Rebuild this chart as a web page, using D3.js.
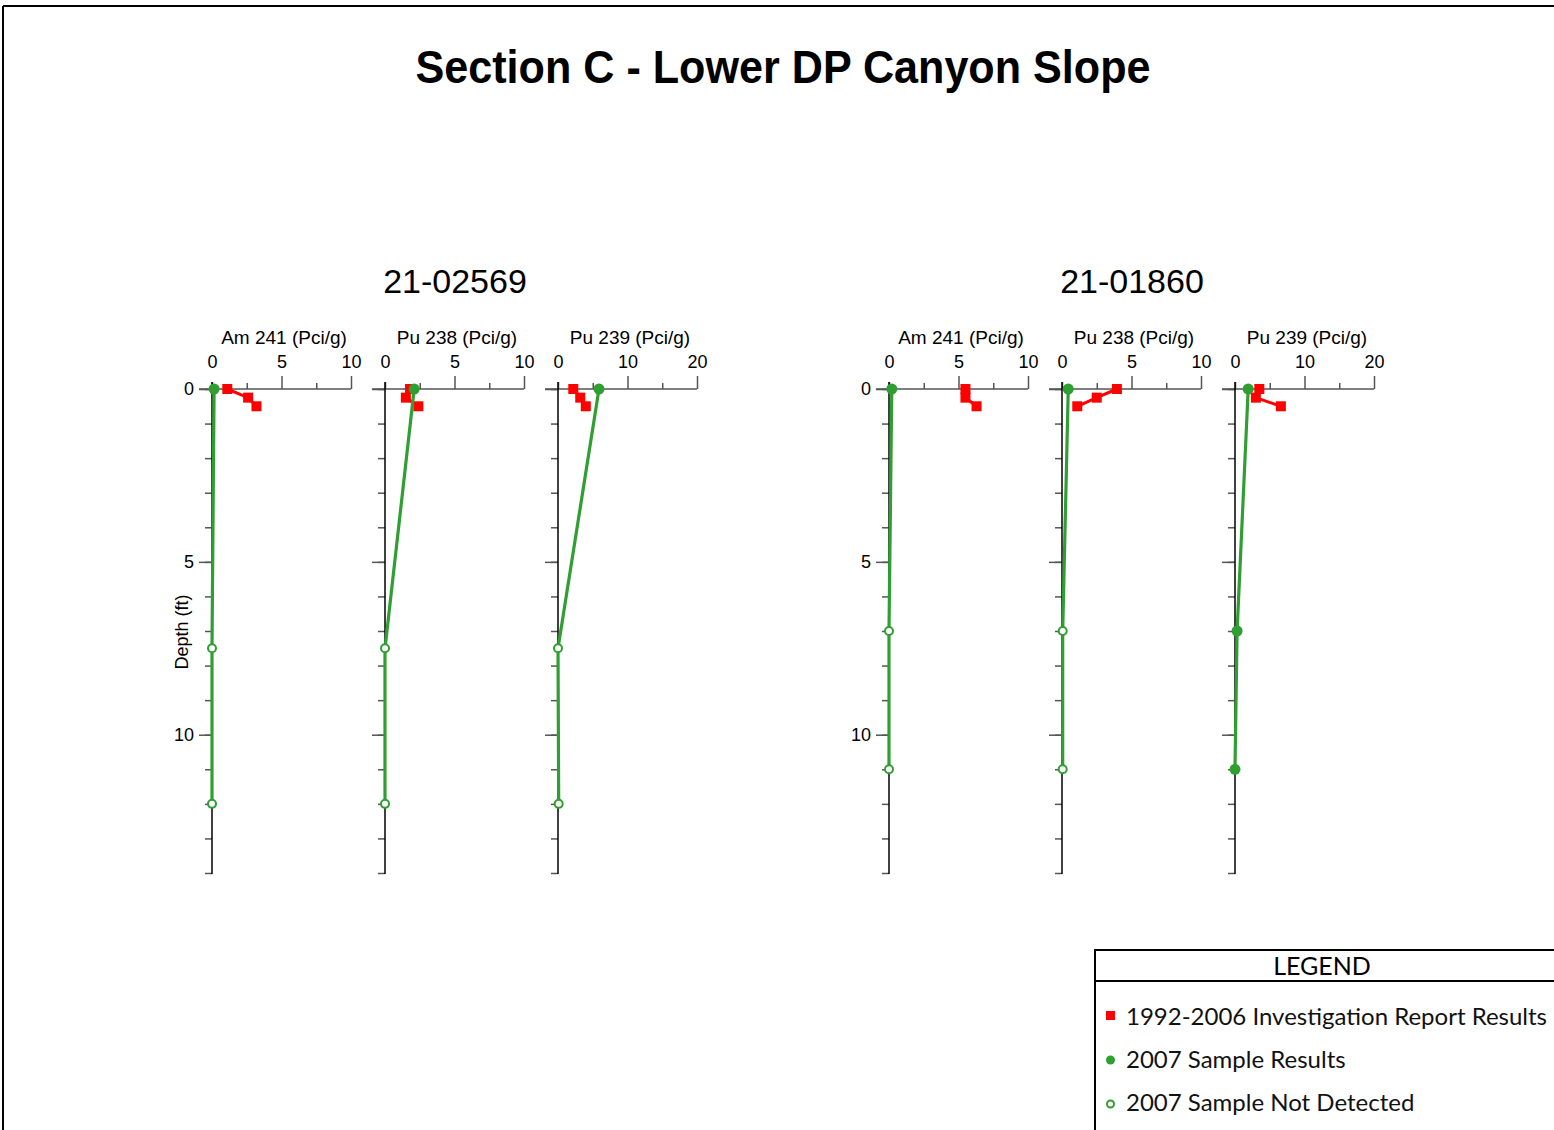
<!DOCTYPE html>
<html>
<head>
<meta charset="utf-8">
<script src="https://cdn.jsdelivr.net/npm/d3@7"></script>
<style>
  body { margin: 0; background: #fff; }
  svg { display: block; }
</style>
</head>
<body>
<svg id="chart"></svg>
<script>
const width = 1554;
const height = 1130;

// ---- data ----
const titleText = "Section C - Lower DP Canyon Slope";
const locations = ["21-02569", "21-01860"];
const analytes = ["Am 241 (Pci/g)", "Pu 238 (Pci/g)", "Pu 239 (Pci/g)"];
const xMaxes = [10, 10, 20];
const depthMax = 14;
const depthLabels = [0, 5, 10];

// 1992-2006 investigation report results (red), one row per analyte
const histDepths = [0, 0.25, 0.5];
const hist02569 = [[1.1, 2.6, 3.2], [1.8, 1.5, 2.4], [2.2, 3.2, 4.0]];
const hist01860 = [[5.5, 5.5, 6.3], [3.95, 2.5, 1.1], [3.5, 3.0, 6.6]];

// 2007 samples (green); detected 1 = filled, 0 = not detected (open)
const sampleDepths02569 = [0, 7.5, 12];
const sample02569 = [[0.15, 0, 0], [2.1, 0, 0], [5.9, 0, 0.1]];
const detected02569 = [[1, 0, 0], [1, 0, 0], [1, 0, 0]];
const sampleDepths01860 = [0, 7, 11];
const sample01860 = [[0.2, 0, 0], [0.45, 0.05, 0.05], [1.9, 0.3, 0]];
const detected01860 = [[1, 0, 0], [1, 0, 0], [1, 1, 1]];

const legendLabels = ["1992-2006 Investigation Report Results", "2007 Sample Results", "2007 Sample Not Detected"];

const groups = [
  { name: locations[0], hist: hist02569, depths: sampleDepths02569, vals: sample02569, det: detected02569 },
  { name: locations[1], hist: hist01860, depths: sampleDepths01860, vals: sample01860, det: detected01860 },
];

// ---- layout ----
const groupLeft = [212, 889];
const panelStep = 173;
const panelW = 139;
const yTop = 389, yBottom = 873;
const red = "#ff0000";
const green = "#2f9f32";
const axisGray = "#555";
const font = "'Liberation Sans', Arial, sans-serif";

const svg = d3.select("#chart").attr("width", width).attr("height", height);

// page frame
svg.append("line").attr("x1", 3).attr("x2", width).attr("y1", 6).attr("y2", 6)
  .attr("stroke", "#000").attr("stroke-width", 2);
svg.append("line").attr("x1", 3).attr("x2", 3).attr("y1", 6).attr("y2", height)
  .attr("stroke", "#000").attr("stroke-width", 2);

svg.append("text")
  .attr("x", 783).attr("y", 83)
  .attr("text-anchor", "middle")
  .attr("font-family", font).attr("font-weight", "bold").attr("font-size", 46)
  .attr("textLength", 735).attr("lengthAdjust", "spacingAndGlyphs")
  .text(titleText);

const y = d3.scaleLinear().domain([0, depthMax]).range([yTop, yBottom]);

groups.forEach((grp, gi) => {
  const gx = groupLeft[gi];
  svg.append("text")
    .attr("x", gx + panelStep + 70).attr("y", 293)
    .attr("text-anchor", "middle")
    .attr("font-family", font).attr("font-size", 34)
    .text(grp.name);

  if (gi === 0) {
    svg.append("text")
      .attr("transform", `translate(188,${632}) rotate(-90)`)
      .attr("text-anchor", "middle")
      .attr("font-family", font).attr("font-size", 18)
      .text("Depth (ft)");
  }

  analytes.forEach((name, pi) => {
    const x0 = gx + pi * panelStep;
    const xMax = xMaxes[pi];
    const x = d3.scaleLinear().domain([0, xMax]).range([x0, x0 + panelW]);
    const pg = svg.append("g");

    pg.append("text")
      .attr("x", x0 + 72).attr("y", 344)
      .attr("text-anchor", "middle")
      .attr("font-family", font).attr("font-size", 19)
      .text(name);

    // x axis on top
    pg.append("line").attr("x1", x0 - 13).attr("x2", x(xMax))
      .attr("y1", yTop).attr("y2", yTop)
      .attr("stroke", axisGray).attr("stroke-width", 1.5);

    const xMajor = pg.append("g").attr("transform", `translate(0,${yTop})`)
      .call(d3.axisTop(x).tickValues([0, xMax / 2, xMax]).tickSize(13).tickPadding(8).tickFormat(d3.format("d")));
    xMajor.selectAll(".tick").filter(d => d === 0).select("line").attr("y2", -7);
    const xMinor = pg.append("g").attr("transform", `translate(0,${yTop})`)
      .call(d3.axisTop(x).tickValues([xMax / 4, 3 * xMax / 4]).tickSize(6).tickFormat(""));

    // y axis on left
    const yMinor = pg.append("g").attr("transform", `translate(${x0},0)`)
      .call(d3.axisLeft(y).tickValues(d3.range(0, depthMax + 1)).tickSize(7).tickFormat(""));
    const yMajor = pg.append("g").attr("transform", `translate(${x0},0)`)
      .call(d3.axisLeft(y).tickValues(depthLabels).tickSize(13).tickPadding(5)
        .tickFormat(pi === 0 ? d3.format("d") : ""));

    [xMajor, xMinor, yMinor, yMajor].forEach(a => {
      a.select(".domain").remove();
      a.selectAll("line").attr("stroke", axisGray).attr("stroke-width", 1.5);
      a.selectAll("text").attr("font-family", font).attr("font-size", 18).attr("fill", "#000");
    });

    pg.append("line").attr("x1", x0).attr("x2", x0)
      .attr("y1", yTop - 7).attr("y2", yBottom + 1)
      .attr("stroke", "#000").attr("stroke-width", 1.5);

    // historic results
    const histPts = grp.hist[pi].map((v, i) => [v, histDepths[i]]);
    pg.append("path")
      .attr("d", d3.line().x(d => x(d[0])).y(d => y(d[1]))(histPts))
      .attr("fill", "none").attr("stroke", red).attr("stroke-width", 3);
    pg.selectAll("rect.hist").data(histPts).join("rect")
      .attr("class", "hist")
      .attr("x", d => x(d[0]) - 5).attr("y", d => y(d[1]) - 5)
      .attr("width", 10).attr("height", 10)
      .attr("fill", red);

    // 2007 samples
    const samplePts = grp.vals[pi].map((v, i) => [v, grp.depths[i], grp.det[pi][i]]);
    pg.append("path")
      .attr("d", d3.line().x(d => x(d[0])).y(d => y(d[1]))(samplePts))
      .attr("fill", "none").attr("stroke", green).attr("stroke-width", 3.2);
    pg.selectAll("circle.sample").data(samplePts).join("circle")
      .attr("class", "sample")
      .attr("cx", d => x(d[0])).attr("cy", d => y(d[1]))
      .attr("r", d => d[2] ? 5.5 : 4)
      .attr("fill", d => d[2] ? green : "#fff")
      .attr("stroke", green).attr("stroke-width", d => d[2] ? 0 : 2);
  });
});

// ---- legend ----
const lg = svg.append("g");
const legendFont = "Lato, 'Open Sans', sans-serif";
lg.append("rect").attr("x", 1095).attr("y", 950).attr("width", 520).attr("height", 240)
  .attr("fill", "none").attr("stroke", "#000").attr("stroke-width", 2);
lg.append("line").attr("x1", 1095).attr("x2", width).attr("y1", 981).attr("y2", 981)
  .attr("stroke", "#000").attr("stroke-width", 2);
lg.append("text").attr("x", 1322).attr("y", 975).attr("text-anchor", "middle")
  .attr("font-family", legendFont).attr("font-size", 25).text("LEGEND");

const legendY = [1016, 1059, 1102];
lg.append("rect").attr("x", 1106).attr("y", legendY[0] - 5).attr("width", 9).attr("height", 9).attr("fill", red);
lg.append("circle").attr("cx", 1110.5).attr("cy", legendY[1] + 1).attr("r", 4.5).attr("fill", green);
lg.append("circle").attr("cx", 1110.5).attr("cy", legendY[2] + 2).attr("r", 3.5)
  .attr("fill", "#fff").attr("stroke", green).attr("stroke-width", 2);
legendLabels.forEach((t, i) => {
  lg.append("text").attr("x", 1126).attr("y", legendY[i] + 9)
    .attr("font-family", legendFont).attr("font-size", 24).attr("fill", "#111")
    .text(t);
});
</script>
</body>
</html>
